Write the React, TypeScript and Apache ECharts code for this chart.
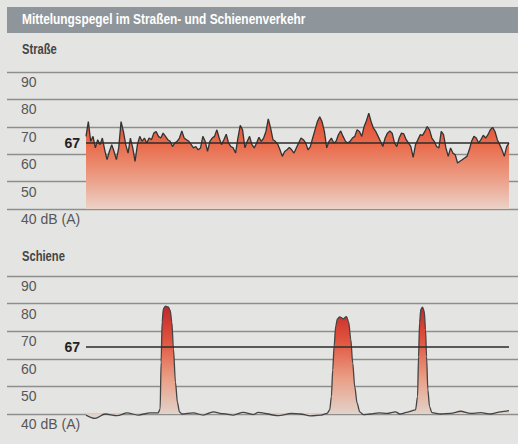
import React, { useEffect, useRef } from "react";
import * as echarts from "echarts";

const TITLE = "Mittelungspegel im Straßen- und Schienenverkehr";
const PANEL_ROAD = "Straße";
const PANEL_RAIL = "Schiene";
const Y_MIN = 40;
const Y_MAX = 90;
const Y_STEP = 10;
const Y_UNIT_LABEL = "40 dB (A)";
const LIMIT_LABEL = "67";
// the 67 reference line as it is drawn in the source graphic (slightly below the 70 gridline)
const LIMIT_DRAWN_AT = 64.2;

// Straße: level samples, evenly spaced in time
const roadDb = [
  66.5, 71.9, 64.7, 66.5, 62.3, 65.3, 63.5, 65.9, 61.6, 58, 61, 63.5, 61, 58, 62.3, 71.9, 68.3, 63.5, 60.4, 65.9,
  62.3, 57.4, 63.5, 66.5, 64.7, 65.9, 64.1, 65.9, 65.3, 67.7, 68.3, 66.5, 65.9, 67.7, 66.5, 65.3, 64.7, 62.8, 64.1, 64.7,
  65.9, 68.5, 65.9, 65.3, 64.7, 63.5, 62.3, 62.8, 61.6, 62.3, 66.5, 64.7, 61, 64.7, 65.9, 66.5, 68.9, 65.9, 63.5, 65.3,
  67.3, 64.1, 62.8, 62.3, 60.4, 65.9, 70.5, 68.9, 62.3, 64.7, 66.5, 63.5, 62.3, 64.1, 66.2, 64.7, 65.9, 68.3, 72.9, 69.5,
  65.3, 64.7, 63.7, 61.6, 59.2, 61, 61.6, 62.5, 61.6, 60.4, 62.3, 64.1, 65.9, 65.3, 64.1, 61.6, 62.8, 65.9, 68.9, 71.9,
  73.7, 71.9, 68.3, 62.3, 64.7, 65.9, 64.1, 64.7, 67.1, 68.5, 66.5, 64.7, 64.1, 64.7, 65.9, 66.5, 68.9, 68.3, 66.5, 70.1,
  72.2, 75, 71.9, 69.5, 68.3, 66.5, 64.7, 62.8, 65.9, 67.7, 68.5, 67.7, 64.1, 62.8, 65.9, 67.7, 67.4, 65.3, 64.1, 62.8,
  58.8, 63.5, 65.3, 67.1, 66.9, 68.3, 70.1, 68.9, 65.9, 64.7, 62.8, 62.3, 68.3, 67.1, 62.3, 59.2, 62.3, 60.4, 59.8, 56.8,
  57.4, 58, 58.6, 59.2, 61.6, 64.7, 66.5, 65.9, 64.1, 65.3, 66.9, 65.9, 67.1, 68.9, 69.8, 68.3, 65.3, 63.5, 61.6, 59.2,
  62.8, 64.1,
];

// Schiene: time (arbitrary units) and level
const railT = [
  0, 9, 19, 31, 41, 52, 64, 72, 74, 75, 76, 77.3, 79.3, 82, 84, 85.7, 87.3, 89.3, 91.3, 93.3, 95.7, 107, 117, 127, 137,
  147, 157, 167, 172, 192, 205, 214, 224, 234, 240.7, 243.3, 245, 246.3, 247.7, 249.3, 251, 253.3, 256.7, 260, 262.3,
  264.3, 266.3, 268.3, 270.7, 273.3, 276.7, 284, 292.3, 300.7, 309, 313.3, 321.3, 329, 331, 332, 333, 334.3, 336, 337.7,
  339, 340, 341.3, 343, 345.3, 354, 364, 374, 384, 394, 404, 414, 422.3,
];
const railDb = [
  39.6, 38.4, 40, 39.4, 40.4, 39.6, 40.4, 40.4, 41.8, 58.8, 73.3, 78.2, 79.1, 78.8, 77.6, 73.3, 63.6, 51.5, 44.2, 40.8,
  40, 40.4, 39.6, 40.8, 40.1, 39.6, 40.6, 39.8, 40.6, 39.4, 40.2, 40, 39.3, 39.6, 40.2, 41.5, 46.3, 56, 64.5, 71.8, 74.5,
  75.2, 74.5, 75.3, 73.2, 67.1, 58.4, 49.9, 43.9, 40.8, 39.8, 40, 40.4, 40.2, 40.8, 40, 40.7, 41.5, 46.3, 60.8, 73, 78,
  78.7, 77.2, 70.5, 60.8, 48.7, 42.7, 40.5, 40, 40.2, 41, 40.2, 40.5, 40, 40.8, 41.2,
];

const FONT = "'Liberation Sans Narrow', 'Liberation Sans', sans-serif";
const BG = "#e4e4e2";

export default function App() {
  const ref = useRef<HTMLDivElement>(null);

  useEffect(() => {
    document.body.style.margin = "0";
    document.body.style.background = BG;
    if (!ref.current) return;
    const chart = echarts.init(ref.current, null, { renderer: "svg" });

    const axisYLabeled = (gridIndex: number) => ({
      gridIndex,
      type: "value",
      min: Y_MIN,
      max: Y_MAX,
      interval: Y_STEP,
      axisLine: { show: false },
      axisTick: { show: false },
      splitLine: { show: true, lineStyle: { color: "#8e8e8e", width: 1.3 } },
      axisLabel: {
        inside: true,
        margin: 14,
        verticalAlign: "top",
        padding: [3, 0, 0, 0],
        color: "#575757",
        fontSize: 14,
        fontFamily: FONT,
        formatter: (v: number) => (v === Y_MIN ? Y_UNIT_LABEL : String(v)),
      },
    });
    const axisYHidden = (gridIndex: number) => ({
      gridIndex,
      type: "value",
      min: Y_MIN,
      max: Y_MAX,
      show: false,
      splitLine: { show: false },
    });

    const limitMark = {
      silent: true,
      symbol: "none",
      data: [{ yAxis: LIMIT_DRAWN_AT }],
      lineStyle: { color: "#2b2b2b", width: 1.6, type: "solid" },
      label: {
        position: "start",
        formatter: LIMIT_LABEL,
        distance: 6,
        color: "#222",
        fontWeight: "bold",
        fontSize: 14,
        fontFamily: FONT,
      },
    };

    const roadGradient = new echarts.graphic.LinearGradient(0, 0, 0, 1, [
      { offset: 0, color: "#de4a30" },
      { offset: 0.35, color: "#e96e4e" },
      { offset: 0.7, color: "#eca18a" },
      { offset: 1, color: "#ecd2c8" },
    ]);
    const railGradient = new echarts.graphic.LinearGradient(0, 0, 0, 1, [
      { offset: 0, color: "#c2262a" },
      { offset: 0.3, color: "#e0533d" },
      { offset: 0.65, color: "#eaa088" },
      { offset: 1, color: "#e1d9d1" },
    ]);

    chart.setOption({
      animation: false,
      backgroundColor: BG,
      graphic: [
        { type: "rect", left: 7, top: 7, shape: { width: 511, height: 26 }, style: { fill: "#8f969b" } },
        {
          type: "text",
          x: 22,
          y: 12,
          scaleX: 0.85,
          style: { text: TITLE, fill: "#ffffff", font: `bold 14px ${FONT}` },
        },
        {
          type: "text",
          x: 22,
          y: 43,
          scaleX: 0.8,
          style: { text: PANEL_ROAD, fill: "#444", font: `bold 14px ${FONT}` },
        },
        {
          type: "text",
          x: 22,
          y: 250,
          scaleX: 0.8,
          style: { text: PANEL_RAIL, fill: "#444", font: `bold 14px ${FONT}` },
        },
      ],
      grid: [
        { left: 7, right: 0, top: 72, bottom: 235 },
        { left: 86, right: 9, top: 72, bottom: 235 },
        { left: 7, right: 0, top: 276, bottom: 30 },
        { left: 86, right: 9, top: 276, bottom: 30 },
      ],
      xAxis: [
        { gridIndex: 0, type: "value", min: 0, max: 1, show: false },
        { gridIndex: 1, type: "category", boundaryGap: false, data: roadDb.map((_, i) => i), show: false },
        { gridIndex: 2, type: "value", min: 0, max: 1, show: false },
        { gridIndex: 3, type: "value", min: railT[0], max: railT[railT.length - 1], show: false },
      ],
      yAxis: [axisYLabeled(0), axisYHidden(1), axisYLabeled(2), axisYHidden(3)],
      series: [
        {
          type: "line",
          xAxisIndex: 1,
          yAxisIndex: 1,
          data: roadDb,
          symbol: "none",
          lineStyle: { color: "#333", width: 1.3 },
          areaStyle: { color: roadGradient, opacity: 1, origin: "start" },
          markLine: limitMark,
        },
        {
          type: "line",
          xAxisIndex: 3,
          yAxisIndex: 3,
          data: railT.map((t, i) => [t, railDb[i]]),
          symbol: "none",
          smooth: 0.3,
          smoothMonotone: "x",
          clip: false,
          lineStyle: { color: "#444", width: 1.3 },
          areaStyle: { color: railGradient, opacity: 1, origin: "start" },
          markLine: limitMark,
        },
      ],
    });

    return () => chart.dispose();
  }, []);

  return <div ref={ref} style={{ width: 518, height: 444, background: BG }} />;
}
